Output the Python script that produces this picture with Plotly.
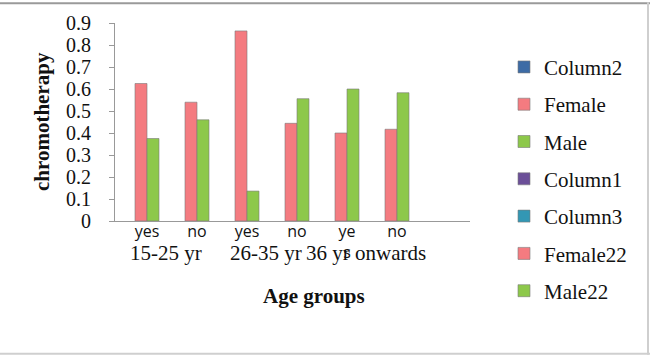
import plotly.graph_objects as go

# ---- data ----
answers = ["yes", "no", "yes", "no", "ye<br>s", "no"]
age_groups = ["15-25 yr", "26-35 yr", "36 yr onwards"]
female = [0.625, 0.54, 0.864, 0.444, 0.40, 0.417]
male = [0.375, 0.46, 0.136, 0.556, 0.60, 0.583]
y_ticks = [0, 0.1, 0.2, 0.3, 0.4, 0.5, 0.6, 0.7, 0.8, 0.9]
legend_series = ["Column2", "Female", "Male", "Column1", "Column3", "Female22", "Male22"]

PINK = "#F47B80"
GREEN = "#8DC84A"
series_colors = {
    "Column2": "#3D6BA5",
    "Female": PINK,
    "Male": GREEN,
    "Column1": "#6B4F98",
    "Column3": "#3397B4",
    "Female22": PINK,
    "Male22": GREEN,
}
data_map = {"Female": female, "Male": male}

xpos = list(range(len(answers)))
SERIF = "Liberation Serif, Times New Roman, serif"
SANS = "Open Sans, Liberation Sans, sans-serif"

fig = go.Figure()
bar_w = 0.24
for name in legend_series:
    col = series_colors[name]
    vals = data_map.get(name, [None] * len(xpos))
    off = -bar_w if name in ("Female", "Female22") else 0.0
    fig.add_trace(go.Bar(
        x=xpos, y=vals, name=name, legendgroup=name,
        width=bar_w, offset=off,
        marker=dict(color=col, line=dict(color="#7a7a7a", width=0.6)),
    ))

L, R, T, B = 115, 180, 21, 136
W, H = 650, 357
pw, ph = W - L - R, H - T - B

def px_x(p):
    return (p - L) / pw

def px_y(p):
    return (H - B - p) / ph

fig.update_layout(
    width=W, height=H,
    margin=dict(l=L, r=R, t=T, b=B),
    paper_bgcolor="white", plot_bgcolor="white",
    barmode="overlay",
    showlegend=True,
    legend=dict(
        x=px_x(504), y=px_y(45), xanchor="left", yanchor="top",
        font=dict(family=SERIF, size=21, color="#111"),
        tracegroupgap=7, itemwidth=30, maxheight=320,
        bgcolor="rgba(0,0,0,0)",
    ),
    xaxis=dict(
        range=[-0.64, 6.46], tickmode="array", tickvals=xpos, ticktext=answers,
        showline=True, linecolor="#999", linewidth=1, ticks="",
        tickfont=dict(family=SANS, size=16, color="#111"),
        ticklabelstandoff=-4,
        showgrid=False, zeroline=False, fixedrange=True,
    ),
    yaxis=dict(
        range=[0, 0.9], tickmode="array", tickvals=y_ticks,
        ticktext=[("%g" % v) for v in y_ticks],
        showline=True, linecolor="#999", linewidth=1,
        ticks="outside", ticklen=5, tickcolor="#999",
        ticklabelstandoff=14,
        tickfont=dict(family=SERIF, size=20, color="#111"),
        showgrid=False, zeroline=False, fixedrange=True,
    ),
)

# group labels
for i, g in enumerate(age_groups):
    fig.add_annotation(
        x=2 * i + 0.5, y=px_y(253), xref="x", yref="paper",
        text=g, showarrow=False, xanchor="center", yanchor="middle",
        xshift=-6, font=dict(family=SERIF, size=21, color="#111"),
    )

# axis titles
fig.add_annotation(
    x=px_x(314), y=px_y(297), xref="paper", yref="paper",
    text="<b>Age groups</b>", showarrow=False, xanchor="center", yanchor="middle",
    font=dict(family=SERIF, size=21, color="#111"),
)
fig.add_annotation(
    x=px_x(42), y=px_y(121), xref="paper", yref="paper",
    text="<b>chromotherapy</b>", showarrow=False, textangle=-90,
    xanchor="center", yanchor="middle",
    font=dict(family=SERIF, size=21, color="#111"),
)

# chart border
fig.add_shape(type="line", xref="paper", yref="paper",
              x0=px_x(0), x1=px_x(650), y0=px_y(1), y1=px_y(1),
              line=dict(color="#9a9a9a", width=2))
fig.add_shape(type="line", xref="paper", yref="paper",
              x0=px_x(648), x1=px_x(648), y0=px_y(0), y1=px_y(356),
              line=dict(color="#cfcfcf", width=2))
fig.add_shape(type="line", xref="paper", yref="paper",
              x0=px_x(0), x1=px_x(650), y0=px_y(355), y1=px_y(355),
              line=dict(color="#cfcfcf", width=2))

fig.write_html(
    "out.html",
    config={"displayModeBar": False},
    post_script="document.body.style.margin='0';document.body.style.overflow='hidden';",
)
